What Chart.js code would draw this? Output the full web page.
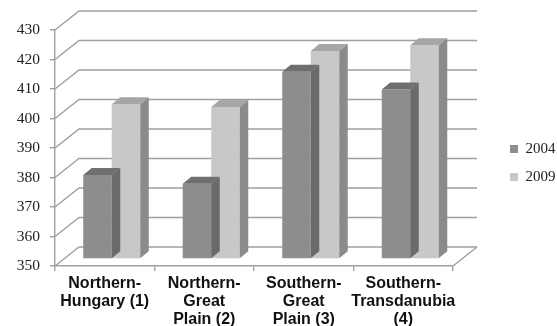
<!DOCTYPE html>
<html><head><meta charset="utf-8">
<script src="https://cdn.jsdelivr.net/npm/chart.js@4"></script>
<style>html,body{margin:0;padding:0;background:#fff;}</style>
</head><body>
<canvas id="c" width="557" height="326" style="display:block;width:557px;height:326px"></canvas>
<script>
// ---- data ----
const categories = [
  ['Northern-', 'Hungary (1)'],
  ['Northern-', 'Great', 'Plain (2)'],
  ['Southern-', 'Great', 'Plain (3)'],
  ['Southern-', 'Transdanubia', '(4)']
];
const seriesNames = ['2004', '2009'];
const values2004 = [378.5, 375.5, 413.5, 407.5];
const values2009 = [402.5, 401.5, 420.5, 422.5];
const yMin = 350, yMax = 430, yStep = 10;

// ---- 3D look ----
const DX = 24, DY = -19;   // wall depth
const BX = 7, BY = -7;     // bar plane offset
const TX = 8.5, TY = -7;   // bar depth
const GRID = '#a0a0a0';
const faceColors = [
  {front: '#8d8d8d', top: '#6f6f6f', side: '#6a6a6a'},
  {front: '#c8c8c8', top: '#a6a6a6', side: '#8b8b8b'}
];

const plot3d = {
  id: 'plot3d',
  beforeDatasetsDraw(chart) {
    const {ctx, chartArea: {left, right, bottom}, scales: {y}} = chart;
    ctx.save();
    ctx.strokeStyle = GRID; ctx.lineWidth = 1.4;
    y.ticks.forEach(t => {
      const py = y.getPixelForValue(t.value);
      ctx.beginPath();
      ctx.moveTo(left, py);
      ctx.lineTo(left + DX, py + DY);
      ctx.lineTo(right + DX, py + DY);
      ctx.stroke();
    });
    ctx.beginPath();
    ctx.moveTo(right, bottom);
    ctx.lineTo(right + DX, bottom + DY);
    ctx.stroke();
    ctx.restore();
    ctx.save();
    ctx.translate(BX, BY);
  },
  afterDatasetDraw(chart, args) {
    const ctx = chart.ctx;
    const c = faceColors[args.index];
    args.meta.data.forEach(bar => {
      const {x, y, base, width} = bar.getProps(['x', 'y', 'base', 'width'], true);
      const x0 = x - width / 2, x1 = x + width / 2;
      ctx.fillStyle = c.top;
      ctx.beginPath();
      ctx.moveTo(x0, y); ctx.lineTo(x1, y); ctx.lineTo(x1 + TX, y + TY); ctx.lineTo(x0 + TX, y + TY);
      ctx.closePath(); ctx.fill();
      ctx.fillStyle = c.side;
      ctx.beginPath();
      ctx.moveTo(x1, y); ctx.lineTo(x1 + TX, y + TY); ctx.lineTo(x1 + TX, base + TY); ctx.lineTo(x1, base);
      ctx.closePath(); ctx.fill();
    });
  },
  afterDatasetsDraw(chart) {
    chart.ctx.restore();
  }
};

new Chart(document.getElementById('c'), {
  type: 'bar',
  data: {
    labels: categories,
    datasets: [
      {label: seriesNames[0], data: values2004, base: yMin, backgroundColor: faceColors[0].front, borderWidth: 0, clip: false},
      {label: seriesNames[1], data: values2009, base: yMin, backgroundColor: faceColors[1].front, borderWidth: 0, clip: false}
    ]
  },
  options: {
    responsive: false,
    animation: false,
    devicePixelRatio: 1,
    categoryPercentage: 0.573,
    barPercentage: 1,
    layout: {padding: 0},
    plugins: {
      tooltip: {enabled: false},
      legend: {
        position: 'right',
        maxWidth: 60,
        labels: {
          boxWidth: 8, boxHeight: 8, padding: 13,
          color: '#222',
          font: {family: "'Liberation Serif', serif", size: 15}
        }
      }
    },
    scales: {
      x: {
        afterFit(s) { s.height = 60; },
        grid: {drawOnChartArea: false, drawTicks: true, tickLength: 5, color: GRID, lineWidth: 1.4, offset: true},
        border: {color: GRID, width: 1.4},
        ticks: {
          autoSkip: false, maxRotation: 0, minRotation: 0, padding: 3,
          color: '#111',
          font: {family: "'Liberation Sans', Arial, sans-serif", size: 16, weight: 'bold', lineHeight: 1.15}
        }
      },
      xT: {
        type: 'category',
        position: 'top',
        afterFit(s) { s.height = 30; },
        grid: {display: false},
        border: {display: false},
        ticks: {display: false}
      },
      y: {
        min: yMin, max: yMax,
        afterFit(s) { s.width = 55; },
        grid: {drawOnChartArea: false, drawTicks: true, tickLength: 5, color: GRID, lineWidth: 1.4},
        border: {color: GRID, width: 1.4},
        ticks: {
          stepSize: yStep, padding: 10, color: '#222',
          font: {family: "'Liberation Serif', serif", size: 15.5}
        }
      },
      yR: {
        position: 'right',
        afterFit(s) { s.width = Math.max(0, s.chart.width - s.chart.legend.width - 453); },
        grid: {display: false},
        border: {display: false},
        ticks: {display: false}
      }
    }
  },
  plugins: [plot3d]
});
</script>
</body></html>
